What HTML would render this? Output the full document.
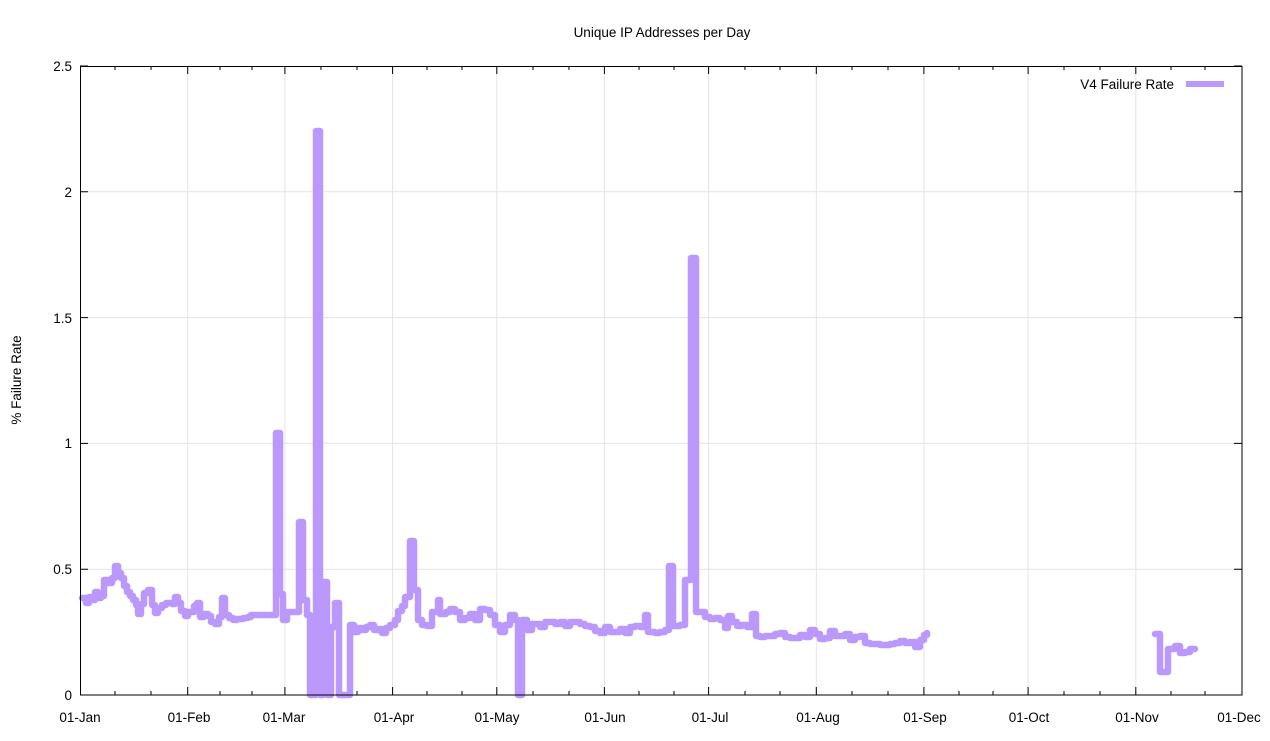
<!DOCTYPE html>
<html><head><meta charset="utf-8"><style>
body{margin:0;background:#fff;}
svg{display:block;font-family:"Liberation Sans",sans-serif;}
</style></head><body>
<svg width="1270" height="741" viewBox="0 0 1270 741">
<rect width="1270" height="741" fill="#fff"/>
<text x="662" y="37" font-size="13.5" text-anchor="middle">Unique IP Addresses per Day</text>
<text transform="translate(21,380) rotate(-90)" font-size="13.5" text-anchor="middle">% Failure Rate</text>
<g stroke="#e4e4e4" stroke-width="1">
<line x1="80" y1="569.2" x2="1242" y2="569.2"/><line x1="80" y1="443.4" x2="1242" y2="443.4"/>
<line x1="80" y1="317.6" x2="1242" y2="317.6"/><line x1="80" y1="191.8" x2="1242" y2="191.8"/>
<line x1="187.7" y1="66" x2="187.7" y2="695"/><line x1="284.9" y1="66" x2="284.9" y2="695"/>
<line x1="392.6" y1="66" x2="392.6" y2="695"/><line x1="496.8" y1="66" x2="496.8" y2="695"/>
<line x1="604.4" y1="66" x2="604.4" y2="695"/><line x1="708.6" y1="66" x2="708.6" y2="695"/>
<line x1="816.3" y1="66" x2="816.3" y2="695"/><line x1="923.9" y1="66" x2="923.9" y2="695"/>
<line x1="1028.1" y1="66" x2="1028.1" y2="695"/><line x1="1135.8" y1="66" x2="1135.8" y2="695"/>
</g>
<g font-size="13.5" text-anchor="end">
<text x="72" y="700">0</text><text x="72" y="574">0.5</text><text x="72" y="448">1</text>
<text x="72" y="323">1.5</text><text x="72" y="197">2</text><text x="72" y="71">2.5</text>
</g>
<g font-size="13.5" text-anchor="middle">
<text x="80" y="722">01-Jan</text><text x="189" y="722">01-Feb</text><text x="284" y="722">01-Mar</text>
<text x="394" y="722">01-Apr</text><text x="497" y="722">01-May</text><text x="605" y="722">01-Jun</text>
<text x="710" y="722">01-Jul</text><text x="818" y="722">01-Aug</text><text x="925" y="722">01-Sep</text>
<text x="1029" y="722">01-Oct</text><text x="1137" y="722">01-Nov</text><text x="1239" y="722">01-Dec</text>
</g>
<g stroke="#000" stroke-width="1">
<path d="M80,695h8M80,569.2h8M80,443.4h8M80,317.6h8M80,191.8h8M80,66h8M1242,695h-8M1242,569.2h-8M1242,443.4h-8M1242,317.6h-8M1242,191.8h-8M1242,66h-8"/>
<path d="M187.7,695v-8M284.9,695v-8M392.6,695v-8M496.8,695v-8M604.4,695v-8M708.6,695v-8M816.3,695v-8M923.9,695v-8M1028.1,695v-8M1135.8,695v-8M187.7,66v8M284.9,66v8M392.6,66v8M496.8,66v8M604.4,66v8M708.6,66v8M816.3,66v8M923.9,66v8M1028.1,66v8M1135.8,66v8"/>
<path d="M115,695v-4M151,695v-4M220,695v-4M252,695v-4M321,695v-4M357,695v-4M427,695v-4M462,695v-4M533,695v-4M569,695v-4M639,695v-4M674,695v-4M745,695v-4M780,695v-4M852,695v-4M888,695v-4M959,695v-4M993,695v-4M1064,695v-4M1100,695v-4M1171,695v-4M1205,695v-4M115,66v4M151,66v4M220,66v4M252,66v4M321,66v4M357,66v4M427,66v4M462,66v4M533,66v4M569,66v4M639,66v4M674,66v4M745,66v4M780,66v4M852,66v4M888,66v4M959,66v4M993,66v4M1064,66v4M1100,66v4M1171,66v4M1205,66v4"/>
</g>
<g fill="none" stroke="#bb99fc" stroke-width="6.5" stroke-linejoin="round" stroke-linecap="round">
<path d="M82,598H86V603H89V597H92V600H95V592H98V598H101V596H104V580H108V583H112V578H115V566H118V573H121V578H124V586H127V592H130V596H133V600H136V605H138V614H141V604H144V593H148V590H152V605H155V613H158V608H162V605H166V603H172V604H175V597H178V603H181V611H185V616H188V612H194V606H197V603H200V617H204V614H208V616H211V622H215V624H219V617H222V598H225V615H229V618H233V620H237V619H243V618H248V617H251V615H276V433H280V594H283V620H287V612H299V522H303V600H307V615H310V695H316V131H320V695H323V582H327V695H331V627H335V603H339V695H350V625H354V632H358V628H362V630H366V627H370V625H374V630H378V629H382V633H386V628H390V625H395V620H398V611H402V606H405V597H410V541H414V590H418V620H422V625H427V626H432V612H438V600H440V614H446V612H450V609H455V612H460V620H465V618H470V614H475V620H480V609H485V610H490V615H495V625H500V632H505V625H510V615H515V620H518V695H522V620H527V630H532V624H540V627H545V622H555V624H560V622H565V626H570V622H580V624H585V626H590V627H595V631H600V633H605V627H610V632H615V632H620V629H625V633H630V627H635V626H640V627H645V615H648V632H655V633H660V632H665V630H669V566H673V626H680V625H685V580H689V580H691V258H696V612H705V617H710V619H715V618H720V620H725V628H728V616H732V622H737V626H742V625H747V627H752V614H756V636H760V637H765V636H770V636H775V634H780V633H785V637H790V638H800V635H805V637H810V630H815V634H820V639H825V638H830V631H835V636H840V636H845V634H850V640H855V637H860V636H865V643H870V644H880V645H890V644H895V643H900V641H905V643H910V642H915V647H920V640H924V635H927V633"/>
<path d="M1155,634H1160V672H1168V649H1175V646H1180V653H1185V652H1190V649H1195"/>
<line x1="1186" y1="84" x2="1224" y2="84" stroke-width="6" stroke-linecap="butt"/>
</g>
<text x="1174" y="89" font-size="13.5" text-anchor="end">V4 Failure Rate</text>
<rect x="80.5" y="66.5" width="1161.5" height="628.5" fill="none" stroke="#000" stroke-width="1"/>
</svg>
</body></html>
